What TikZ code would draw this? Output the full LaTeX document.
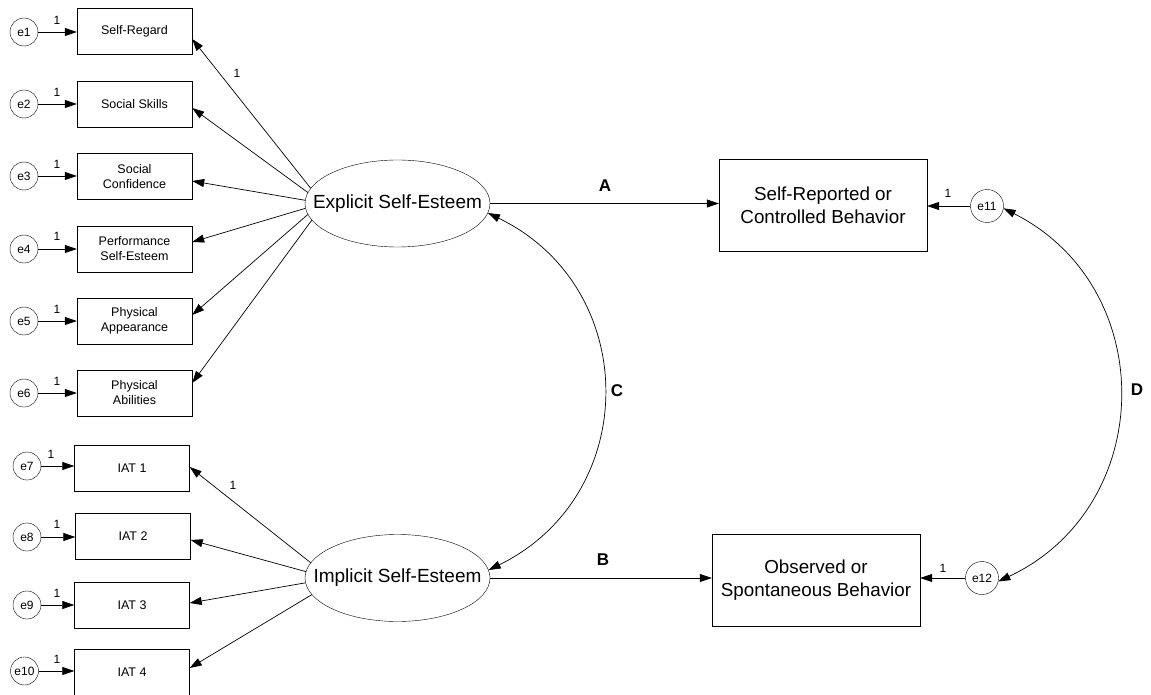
\documentclass[tikz,border=0pt]{standalone}
\usepackage{fontspec}
\setmainfont{Liberation Sans}
\usetikzlibrary{arrows.meta,shapes.geometric}
\tikzset{
  obs/.style={draw, rectangle, minimum width=115pt, minimum height=46pt, inner sep=0pt, align=center, font=\fontsize{12.5}{15}\selectfont},
  big/.style={draw, rectangle, minimum width=208pt, minimum height=92pt, inner sep=0pt, align=center, font=\fontsize{18.8}{23}\selectfont},
  lat/.style={draw, ellipse, minimum width=185pt, minimum height=87pt, inner sep=0pt},
  lattext/.style={font=\fontsize{19}{22}\selectfont, inner sep=0pt},
  err/.style={draw, circle, minimum size=28pt, inner sep=0pt, font=\fontsize{12}{14}\selectfont},
  errb/.style={draw, circle, minimum size=33pt, inner sep=0pt, font=\fontsize{12}{14}\selectfont},
  one/.style={inner sep=0pt, font=\fontsize{12}{14}\selectfont},
  letter/.style={inner sep=0pt, font=\fontsize{17}{20}\selectfont\bfseries},
  arr/.style={line width=0.7pt, -{Triangle[length=12pt,width=8pt]}},
  dbl/.style={line width=0.7pt, {Triangle[length=12pt,width=8pt]}-{Triangle[length=12pt,width=8pt]}},
}
\begin{document}
\begin{tikzpicture}[x=1pt,y=-1pt]
\useasboundingbox (0,0) rectangle (1151,695);
% indicators explicit
\node[obs] (b1) at (134.5,31.5) {Self-Regard};
\node[obs] (b2) at (134.5,104) {Social Skills};
\node[obs] (b3) at (134.5,176.5) {Social\\Confidence};
\node[obs] (b4) at (134.5,249) {Performance\\Self-Esteem};
\node[obs] (b5) at (134.5,321) {Physical\\Appearance};
\node[obs] (b6) at (134.5,393) {Physical\\Abilities};
% indicators implicit
\node[obs] (i1) at (132,468) {IAT 1};
\node[obs] (i2) at (133,536.5) {IAT 2};
\node[obs] (i3) at (132,605) {IAT 3};
\node[obs] (i4) at (132,672) {IAT 4};
% errors
\node[err] (e1) at (24,32) {e1};
\node[err] (e2) at (24,104) {e2};
\node[err] (e3) at (24,176) {e3};
\node[err] (e4) at (24,249) {e4};
\node[err] (e5) at (24,321) {e5};
\node[err] (e6) at (24,393) {e6};
\node[err] (e7) at (27,466) {e7};
\node[err] (e8) at (27,537) {e8};
\node[err] (e9) at (27,605) {e9};
\node[err] (e10) at (24.5,671) {e10};
% latent
\node[lat, label={[lattext]center:Explicit Self-Esteem}] (E) at (397.5,203.5) {};
\node[lat, label={[lattext]center:Implicit Self-Esteem}] (I) at (397.5,578) {};
% outcomes
\node[big] (SR) at (823,205) {Self-Reported or\\Controlled Behavior};
\node[big] (OB) at (816,580) {Observed or\\Spontaneous Behavior};
\node[errb] (e11) at (987,206) {e11};
\node[errb] (e12) at (982,578) {e12};
% error arrows
\foreach \e/\b in {e1/b1,e2/b2,e3/b3,e4/b4,e5/b5,e6/b6,e7/i1,e8/i2,e9/i3,e10/i4}
  \draw[arr] (\e.east) -- (\e.east -| \b.west);
\draw[arr] (e11.west) -- (e11.west -| SR.east);
\draw[arr] (e12.west) -- (e12.west -| OB.east);
% loadings
\draw[arr] (E.170) -- ([yshift=-7.5pt]b1.east);
\draw[arr] (E.173) -- ([yshift=-4pt]b2.east);
\draw[arr] (E.178) -- ([yshift=-4.5pt]b3.east);
\draw[arr] (E.183) -- ([yshift=7pt]b4.east);
\draw[arr] (E.187) -- ([yshift=6pt]b5.east);
\draw[arr] (E.191) -- ([yshift=10pt]b6.east);
\draw[arr] (I.170) -- ([yshift=1pt]i1.east);
\draw[arr] (I.176) -- ([yshift=-3.5pt]i2.east);
\draw[arr] (I.183) -- ([yshift=2pt]i3.east);
\draw[arr] (I.191) -- ([yshift=4pt]i4.east);
% structural paths
\draw[arr] (E.east) -- (E.east -| SR.west);
\draw[arr] (I.east) -- (I.east -| OB.west);
% covariances
\draw[dbl] (I.5) to[bend right=64, looseness=1.22] (E.-6);
\draw[dbl] (e12.-12) to[bend right=64, looseness=1.2] (e11.-8);
% labels
\node[one] (l1) at (57,20) {1};
\node[one] (l2) at (57,92) {1};
\node[one] (l3) at (57,164) {1};
\node[one] (l4) at (57,236) {1};
\node[one] (l5) at (57,309) {1};
\node[one] (l6) at (57,381) {1};
\node[one] (l7) at (51,454) {1};
\node[one] (l8) at (57,524) {1};
\node[one] (l9) at (57,593) {1};
\node[one] (l10) at (57,659) {1};
\node[one] (l11) at (948,193) {1};
\node[one] (l12) at (943,568) {1};
\node[one] (lb1) at (237,73) {1};
\node[one] (li1) at (233,485) {1};
\node[letter] (A) at (605,186) {A};
\node[letter] (B) at (603,560) {B};
\node[letter] (C) at (617,391) {C};
\node[letter] (D) at (1137,390) {D};
\end{tikzpicture}
\end{document}
